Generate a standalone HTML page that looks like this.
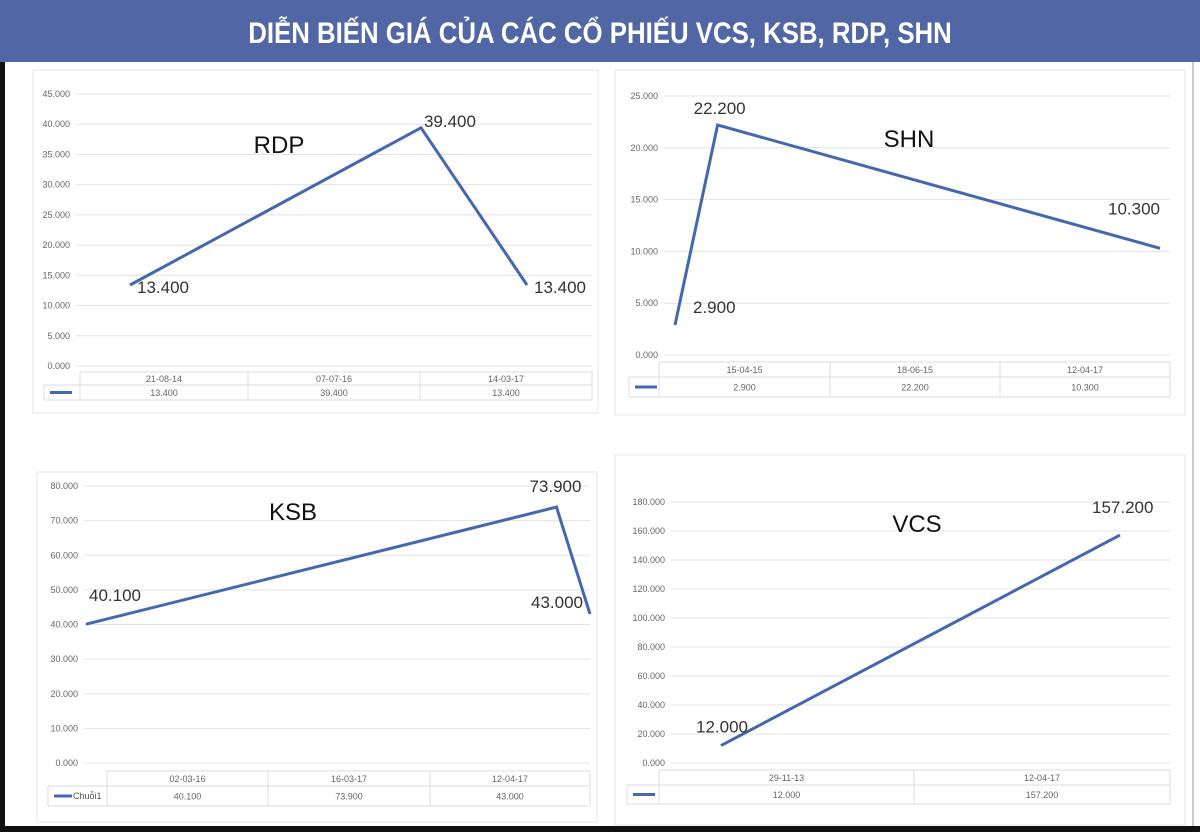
<!DOCTYPE html>
<html><head><meta charset="utf-8"><style>
html,body{margin:0;padding:0;background:#fff;}
svg{display:block;font-family:"Liberation Sans",sans-serif;}
</style></head><body>
<svg id="root" width="1200" height="832" viewBox="0 0 1200 832" xmlns="http://www.w3.org/2000/svg">
<rect x="0" y="0" width="1200" height="62" fill="#5066a5"/>
<text x="600" y="43" text-anchor="middle" font-size="30" font-weight="bold" fill="#fff" font-family="'Liberation Sans Narrow','Liberation Sans',sans-serif" transform="translate(600,0) scale(0.86,1) translate(-600,0)">DIỄN BIẾN GIÁ CỦA CÁC CỔ PHIẾU VCS, KSB, RDP, SHN</text>
<rect x="0" y="62" width="5" height="770" fill="#111"/>
<rect x="0" y="826" width="1200" height="6" fill="#111"/>
<rect x="1192" y="62" width="2" height="764" fill="#ccc"/>
<g id="charts"></g>
</svg>
<script>
// RDP
const rdpDates = ["21-08-14","07-07-16","14-03-17"];
const rdpValues = [13400, 39400, 13400];
const rdpLabels = ["13.400","39.400","13.400"];
// SHN
const shnDates = ["15-04-15","18-06-15","12-04-17"];
const shnValues = [2900, 22200, 10300];
const shnLabels = ["2.900","22.200","10.300"];
// KSB
const ksbDates = ["02-03-16","16-03-17","12-04-17"];
const ksbValues = [40100, 73900, 43000];
const ksbLabels = ["40.100","73.900","43.000"];
// VCS
const vcsDates = ["29-11-13","12-04-17"];
const vcsValues = [12000, 157200];
const vcsLabels = ["12.000","157.200"];
// tick labels
const rdpTicks = [0,5000,10000,15000,20000,25000,30000,35000,40000,45000];
const shnTicks = [0,5000,10000,15000,20000,25000];
const ksbTicks = [0,10000,20000,30000,40000,50000,60000,70000,80000];
const vcsTicks = [0,20000,40000,60000,80000,100000,120000,140000,160000,180000];

const NS="http://www.w3.org/2000/svg";
const root=document.getElementById('charts');
function mk(tag,attrs,parent){const e=document.createElementNS(NS,tag);for(const k in attrs)e.setAttribute(k,attrs[k]);(parent||root).appendChild(e);return e;}
function parseDate(s){const p=s.split('-');return Date.UTC(2000+ +p[2],+p[1]-1,+p[0]);}
function fmt(v){return (v/1000).toFixed(3);}

function drawChart(cfg){
  const g=mk('g',{});
  
  
  const fr=mk('rect',{x:cfg.frame[0],y:cfg.frame[1],width:cfg.frame[2],height:cfg.frame[3],fill:'#fff',stroke:'#e4e4e4','stroke-width':1},g);
  
  
  const yMax=cfg.ticks[cfg.ticks.length-1];
  const ys=v=>cfg.y0-(v/yMax)*(cfg.y0-cfg.yTop);
  const t0=parseDate(cfg.dates[0]),t1=parseDate(cfg.dates[cfg.dates.length-1]);
  const xs=d=>cfg.xa+(parseDate(d)-t0)/(t1-t0)*(cfg.xb-cfg.xa);
  cfg.ticks.forEach(t=>{
    const l=mk('line',{x1:cfg.gx0,x2:cfg.gx1,y1:ys(t),y2:ys(t),stroke:'#e3e3e3','stroke-width':1},g);
    
    
    const tx=mk('text',{x:cfg.gx0-6,y:ys(t)+3,'text-anchor':'end','font-size':9,fill:'#666'},g);
    tx.textContent=fmt(t);
    
    
  });
  // table
  const [ty0,ty1,ty2]=cfg.rows;const cols=cfg.cols;
  const tl=[[cols[1],ty0,cols[cols.length-1],ty0],[cols[0],ty1,cols[cols.length-1],ty1],[cols[0],ty2,cols[cols.length-1],ty2]];
  cols.forEach((c,i)=>tl.push([c,i==0?ty1:ty0,c,ty2]));
  tl.forEach(a=>{const l=mk('line',{x1:a[0],y1:a[1],x2:a[2],y2:a[3],stroke:'#dcdcdc','stroke-width':1},g);
    
    });
  const lg=mk('line',{x1:cols[0]+6,x2:cols[0]+(cfg.legendText?24:28),y1:(ty1+ty2)/2,y2:(ty1+ty2)/2,stroke:'#4468b0','stroke-width':3},g);
  
  
  if(cfg.legendText){const t=mk('text',{x:cols[0]+25,y:(ty1+ty2)/2+3,'font-size':9,fill:'#555'},g);t.textContent=cfg.legendText;
    
    }
  cfg.dates.forEach((d,i)=>{
    const cx=(cols[i+1]+cols[i+2])/2;
    const a=mk('text',{x:cx,y:(ty0+ty1)/2+3.5,'text-anchor':'middle','font-size':9,fill:'#666'},g);a.textContent=d;
    
    
    const b=mk('text',{x:cx,y:(ty1+ty2)/2+3.5,'text-anchor':'middle','font-size':9,fill:'#666'},g);b.textContent=cfg.labels[i];
    
    
  });
  const pts=cfg.dates.map((d,i)=>xs(d).toFixed(1)+','+ys(cfg.values[i]).toFixed(1)).join(' ');
  const pl=mk('polyline',{points:pts,fill:'none',stroke:'#4468b0','stroke-width':3,'stroke-linejoin':'miter'},g);
  
  
  cfg.dates.forEach((d,i)=>{
    const o=cfg.lblOff[i];
    const t=mk('text',{x:xs(d)+o[0],y:ys(cfg.values[i])+o[1],'font-size':17,fill:'#333','text-anchor':o[2]||'start'},g);
    t.textContent=cfg.labels[i];
    
    
  });
  const ti=mk('text',{x:cfg.title[0],y:cfg.title[1],'font-size':24,fill:'#111','text-anchor':'middle'},g);
  ti.textContent=cfg.name.toUpperCase();
  
  
}

drawChart({name:'rdp',dates:rdpDates,values:rdpValues,labels:rdpLabels,ticks:rdpTicks,
  frame:[33,70,565,343],y0:366,yTop:94,gx0:76,gx1:592,xa:130,xb:527,
  rows:[372,385,400],cols:[44,80,248,420,592],legendText:null,
  lblOff:[[7,8],[3,-1],[7,8]],title:[279,153]});
drawChart({name:'shn',dates:shnDates,values:shnValues,labels:shnLabels,ticks:shnTicks,
  frame:[615,70,570,345],y0:355,yTop:96,gx0:664,gx1:1170,xa:675,xb:1160,
  rows:[362,377,397],cols:[629,659,830,1000,1170],legendText:null,
  lblOff:[[18,-12],[-24,-11],[-52,-34]],title:[909,147]});
drawChart({name:'ksb',dates:ksbDates,values:ksbValues,labels:ksbLabels,ticks:ksbTicks,
  frame:[37,472,560,350],y0:763,yTop:486,gx0:84,gx1:590,xa:86,xb:590,
  rows:[771,786,806],cols:[48,107,268,430,590],legendText:'Chuỗi1',
  lblOff:[[3,-23],[-27,-15],[-59,-6]],title:[293,520]});
drawChart({name:'vcs',dates:vcsDates,values:vcsValues,labels:vcsLabels,ticks:vcsTicks,
  frame:[615,455,570,370],y0:763,yTop:502,gx0:671,gx1:1170,xa:721,xb:1120,
  rows:[770,785,804],cols:[627,659,914,1170],legendText:null,
  lblOff:[[-25,-13],[-28,-22]],title:[917,532]});
</script>
</body></html>
